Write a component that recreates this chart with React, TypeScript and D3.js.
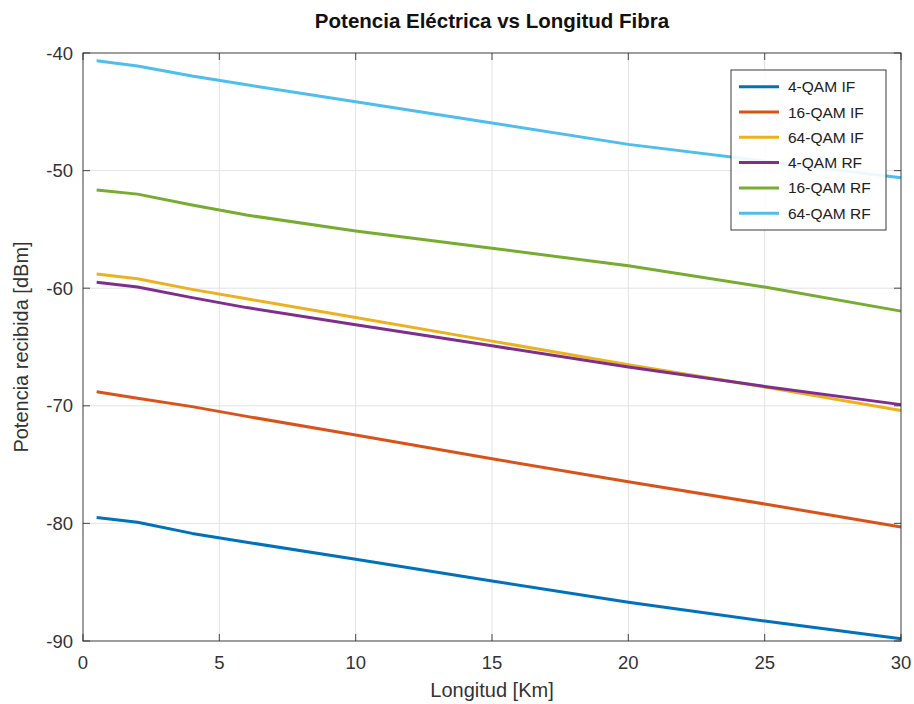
import React from "react";
import * as d3 from "d3";

const xs = [0.5, 2, 4, 6, 10, 15, 20, 25, 30];
const qam4IF = [-79.5, -79.9, -80.85, -81.6, -83.05, -84.9, -86.7, -88.3, -89.8];
const qam16IF = [-68.8, -69.35, -70.07, -70.9, -72.48, -74.5, -76.45, -78.35, -80.3];
const qam64IF = [-58.8, -59.2, -60.1, -60.9, -62.5, -64.5, -66.5, -68.4, -70.4];
const qam4RF = [-59.5, -59.9, -60.8, -61.65, -63.1, -64.9, -66.7, -68.35, -69.9];
const qam16RF = [-51.65, -52.0, -52.93, -53.78, -55.14, -56.6, -58.1, -59.9, -61.95];
const qam64RF = [-40.65, -41.1, -41.96, -42.7, -44.14, -45.95, -47.77, -49.2, -50.6];

const seriesNames = ["4-QAM IF", "16-QAM IF", "64-QAM IF", "4-QAM RF", "16-QAM RF", "64-QAM RF"];
const seriesValues = [qam4IF, qam16IF, qam64IF, qam4RF, qam16RF, qam64RF];
const colors = ["#0072BD", "#D95319", "#EDB120", "#7E2F8E", "#77AC30", "#4DBEEE"];

const xTicks = [0, 5, 10, 15, 20, 25, 30];
const yTicks = [-90, -80, -70, -60, -50, -40];

const W = 914, H = 704;
const L = 83, R = 901, T = 53, B = 641;

export default function App() {
  const x = d3.scaleLinear().domain([0, 30]).range([L, R]);
  const y = d3.scaleLinear().domain([-90, -40]).range([B, T]);
  const line = d3.line<number>().x((_, i) => x(xs[i])).y((d) => y(d));
  const font = "'Liberation Sans', Arial, sans-serif";
  const axisColor = "#262626";
  const gridColor = "#e3e3e3";
  const tickLen = 7;
  const legX = 731, legY = 70, legW = 155, legH = 160;
  const rowH = 25.3;

  return (
    <svg width={W} height={H} style={{ position: "absolute", left: 0, top: 0, background: "#fff" }} fontFamily={font}>
      <rect x={0} y={0} width={W} height={H} fill="#fff" />
      {xTicks.map((t) => (
        <line key={"gx" + t} x1={x(t)} x2={x(t)} y1={T} y2={B} stroke={gridColor} strokeWidth={1} />
      ))}
      {yTicks.map((t) => (
        <line key={"gy" + t} x1={L} x2={R} y1={y(t)} y2={y(t)} stroke={gridColor} strokeWidth={1} />
      ))}
      {seriesValues.map((vals, i) => (
        <path key={seriesNames[i]} d={line(vals) || ""} fill="none" stroke={colors[i]} strokeWidth={3} strokeLinejoin="round" />
      ))}
      <rect x={L} y={T} width={R - L} height={B - T} fill="none" stroke={axisColor} strokeWidth={1.1} opacity={0.75} />
      {xTicks.map((t) => (
        <g key={"tx" + t}>
          <line x1={x(t)} x2={x(t)} y1={B} y2={B - tickLen} stroke={axisColor} strokeWidth={1.1} opacity={0.75} />
          <line x1={x(t)} x2={x(t)} y1={T} y2={T + tickLen} stroke={axisColor} strokeWidth={1.1} opacity={0.75} />
          <text x={x(t)} y={669} textAnchor="middle" fontSize={18.5} fill="#333">{t}</text>
        </g>
      ))}
      {yTicks.map((t) => (
        <g key={"ty" + t}>
          <line x1={L} x2={L + tickLen} y1={y(t)} y2={y(t)} stroke={axisColor} strokeWidth={1.1} opacity={0.75} />
          <line x1={R} x2={R - tickLen} y1={y(t)} y2={y(t)} stroke={axisColor} strokeWidth={1.1} opacity={0.75} />
          <text x={73} y={y(t) + 6.5} textAnchor="end" fontSize={18.5} fill="#333">{t}</text>
        </g>
      ))}
      <text x={(L + R) / 2} y={28} textAnchor="middle" fontSize={20.5} fontWeight="bold" fill="#111">
        Potencia Eléctrica vs Longitud Fibra
      </text>
      <text x={(L + R) / 2} y={697} textAnchor="middle" fontSize={20} fill="#333">Longitud [Km]</text>
      <text transform={`translate(28, ${(T + B) / 2}) rotate(-90)`} textAnchor="middle" fontSize={20} fill="#333">
        Potencia recibida [dBm]
      </text>
      <rect x={legX} y={legY} width={legW} height={legH} fill="#fff" stroke={axisColor} strokeWidth={1} opacity={0.9} />
      {seriesNames.map((n, i) => {
        const yy = legY + 16.7 + i * rowH;
        return (
          <g key={"leg" + n}>
            <line x1={739} x2={779} y1={yy} y2={yy} stroke={colors[i]} strokeWidth={3} />
            <text x={788} y={yy + 5.5} fontSize={15.5} fill="#222">{n}</text>
          </g>
        );
      })}
    </svg>
  );
}
